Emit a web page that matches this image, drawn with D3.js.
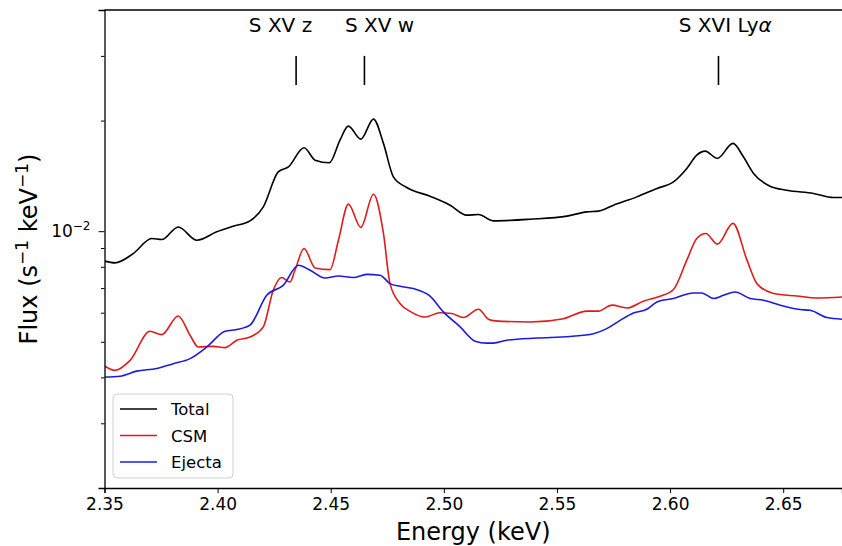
<!DOCTYPE html>
<html>
<head>
<meta charset="utf-8">
<script src="https://cdn.jsdelivr.net/npm/d3@7"></script>
<style>
  body { margin: 0; background: #fff; }
  svg, svg text { font-family: "DejaVu Sans", sans-serif; }
</style>
</head>
<body>
<div id="chart"></div>
<script>
// spectrum (energy in keV, flux in s^-1 keV^-1)
const totalEnergy = [2.3502, 2.3546, 2.3627, 2.3709, 2.3753, 2.3826, 2.3908, 2.3996, 2.4069, 2.4143,
  2.4202, 2.4268, 2.4313, 2.4382, 2.4431, 2.4494, 2.4541, 2.4578, 2.4633, 2.4689,
  2.4733, 2.4777, 2.4836, 2.4939, 2.5028, 2.5101, 2.5153, 2.5218, 2.5381, 2.5544,
  2.5632, 2.5683, 2.5750, 2.5853, 2.5942, 2.6015, 2.6074, 2.6118, 2.6155, 2.6209,
  2.6278, 2.6324, 2.6369, 2.6442, 2.6516, 2.6634, 2.6722, 2.6761];
const totalFlux = [0.00829, 0.00820, 0.00869, 0.00955, 0.00949, 0.01027, 0.00945, 0.00996, 0.01032, 0.01067,
  0.01165, 0.01450, 0.01497, 0.01687, 0.01561, 0.01535, 0.01770, 0.01932, 0.01781, 0.02019,
  0.01734, 0.01406, 0.01315, 0.01245, 0.01177, 0.01106, 0.01110, 0.01067, 0.01078, 0.01099,
  0.01129, 0.01134, 0.01177, 0.01240, 0.01307, 0.01362, 0.01482, 0.01611, 0.01652, 0.01578,
  0.01734, 0.01594, 0.01436, 0.01326, 0.01293, 0.01267, 0.01235, 0.01235];

const csmEnergy = [2.3502, 2.3546, 2.3613, 2.3701, 2.3753, 2.3826, 2.3878, 2.3915, 2.3981, 2.4033,
  2.4085, 2.4143, 2.4202, 2.4246, 2.4283, 2.4320, 2.4342, 2.4382, 2.4431, 2.4497,
  2.4534, 2.4578, 2.4633, 2.4689, 2.4733, 2.4762, 2.4807, 2.4851, 2.4917, 2.4983,
  2.5035, 2.5086, 2.5153, 2.5197, 2.5227, 2.5381, 2.5529, 2.5632, 2.5683, 2.5743,
  2.5809, 2.5882, 2.5956, 2.6015, 2.6074, 2.6118, 2.6158, 2.6209, 2.6278, 2.6340,
  2.6384, 2.6457, 2.6561, 2.6649, 2.6761];
const csmFlux = [0.00429, 0.00418, 0.00445, 0.00534, 0.00523, 0.00588, 0.00521, 0.00484, 0.00486, 0.00482,
  0.00505, 0.00515, 0.00549, 0.00691, 0.00748, 0.00727, 0.00783, 0.00897, 0.00794, 0.00786,
  0.00945, 0.01185, 0.01024, 0.01261, 0.00986, 0.00720, 0.00635, 0.00605, 0.00584, 0.00600,
  0.00597, 0.00582, 0.00613, 0.00576, 0.00570, 0.00566, 0.00578, 0.00606, 0.00606, 0.00629,
  0.00618, 0.00645, 0.00665, 0.00694, 0.00834, 0.00955, 0.00986, 0.00922, 0.01050, 0.00834,
  0.00720, 0.00677, 0.00666, 0.00658, 0.00662];

const ejectaEnergy = [2.3502, 2.3569, 2.3642, 2.3731, 2.3804, 2.3878, 2.3952, 2.4033, 2.4085, 2.4143,
  2.4217, 2.4291, 2.4357, 2.4409, 2.4475, 2.4534, 2.4600, 2.4659, 2.4718, 2.4762,
  2.4807, 2.4865, 2.4939, 2.4998, 2.5072, 2.5138, 2.5190, 2.5219, 2.5278, 2.5411,
  2.5558, 2.5661, 2.5720, 2.5779, 2.5838, 2.5897, 2.5942, 2.6015, 2.6103, 2.6140,
  2.6192, 2.6236, 2.6287, 2.6354, 2.6413, 2.6487, 2.6575, 2.6619, 2.6693, 2.6761];
const ejectaFlux = [0.00401, 0.00403, 0.00416, 0.00423, 0.00436, 0.00450, 0.00484, 0.00534, 0.00540, 0.00555,
  0.00669, 0.00713, 0.00808, 0.00783, 0.00746, 0.00755, 0.00748, 0.00763, 0.00759, 0.00720,
  0.00708, 0.00698, 0.00666, 0.00603, 0.00549, 0.00502, 0.00496, 0.00496, 0.00505, 0.00512,
  0.00517, 0.00526, 0.00543, 0.00572, 0.00599, 0.00613, 0.00642, 0.00656, 0.00679, 0.00679,
  0.00656, 0.00669, 0.00683, 0.00656, 0.00649, 0.00629, 0.00612, 0.00609, 0.00582, 0.00576];

const seriesNames = ["Total", "CSM", "Ejecta"];
const seriesColors = ["#000000", "#e01b1b", "#1b1be0"];

// line identifications
const lineNames = ["S XV z", "S XV w", "S XVI Ly"];
const lineEnergy = [2.4347, 2.4649, 2.6214];
const labelEnergy = [2.4278, 2.4716, 2.6244];

const xTicks = [2.35, 2.40, 2.45, 2.50, 2.55, 2.60, 2.65];

const width = 842, height = 546;
const margin = { top: 10, right: 0, bottom: 58, left: 104.5 };

const svg = d3.select("#chart").append("svg")
  .attr("width", width)
  .attr("height", height);

const x = d3.scaleLinear()
  .domain([2.35, 2.676])
  .range([margin.left, width - margin.right]);

const y = d3.scaleLog()
  .domain([0.002, 0.04])
  .range([height - margin.bottom, margin.top]);

const series = [
  { name: seriesNames[0], color: seriesColors[0], pts: d3.zip(totalEnergy, totalFlux) },
  { name: seriesNames[1], color: seriesColors[1], pts: d3.zip(csmEnergy, csmFlux) },
  { name: seriesNames[2], color: seriesColors[2], pts: d3.zip(ejectaEnergy, ejectaFlux) },
];

const line = d3.line()
  .x((d) => x(d[0]))
  .y((d) => y(d[1]))
  .curve(d3.curveMonotoneX);

svg.append("clipPath").attr("id", "clip")
  .append("rect")
  .attr("x", margin.left).attr("y", margin.top)
  .attr("width", width - margin.left).attr("height", height - margin.bottom - margin.top);

svg.append("g")
  .attr("clip-path", "url(#clip)")
  .selectAll("path")
  .data(series)
  .join("path")
  .attr("fill", "none")
  .attr("stroke", (d) => d.color)
  .attr("stroke-width", 1.6)
  .attr("stroke-linejoin", "round")
  .attr("d", (d) => line(d.pts));

// x axis
const xAxis = svg.append("g")
  .attr("transform", `translate(0,${height - margin.bottom})`)
  .call(d3.axisBottom(x).tickValues(xTicks).tickFormat(d3.format(".2f")).tickSize(5).tickPadding(5));
xAxis.attr("font-family", null);
xAxis.select(".domain").attr("stroke-width", 1.3);
xAxis.selectAll("text").attr("font-size", 17).attr("fill", "#000");

// y axis: log major + minor ticks
const minor = [0.003, 0.004, 0.005, 0.006, 0.007, 0.008, 0.009, 0.02, 0.03];
const yAxis = svg.append("g")
  .attr("transform", `translate(${margin.left},0)`)
  .call(d3.axisLeft(y).tickValues([0.01]).tickFormat(() => "").tickSize(6));
yAxis.select(".domain").attr("stroke-width", 1.3);
svg.append("g")
  .attr("transform", `translate(${margin.left},0)`)
  .call(d3.axisLeft(y).tickValues(minor).tickFormat(() => "").tickSize(3.5))
  .select(".domain").remove();

const yl = svg.append("text")
  .attr("x", margin.left - 14)
  .attr("y", y(0.01) + 6)
  .attr("text-anchor", "end")
  .attr("font-size", 17);
yl.append("tspan").text("10");
yl.append("tspan").attr("dy", -7).attr("font-size", 12).text("\u22122");

// top spine
svg.append("line")
  .attr("x1", margin.left).attr("x2", width)
  .attr("y1", margin.top).attr("y2", margin.top)
  .attr("stroke", "#000").attr("stroke-width", 1.3);

// axis labels
svg.append("text")
  .attr("x", (margin.left + width) / 2)
  .attr("y", 540)
  .attr("text-anchor", "middle")
  .attr("font-size", 24)
  .text("Energy (keV)");

const ylab = svg.append("text")
  .attr("transform", `translate(37,${(margin.top + height - margin.bottom) / 2}) rotate(-90)`)
  .attr("text-anchor", "middle")
  .attr("font-size", 24);
ylab.append("tspan").text("Flux (s");
ylab.append("tspan").attr("dy", -9).attr("font-size", 17).text("\u22121");
ylab.append("tspan").attr("dy", 9).text(" keV");
ylab.append("tspan").attr("dy", -9).attr("font-size", 17).text("\u22121");
ylab.append("tspan").attr("dy", 9).text(")");

// line markers
svg.append("g")
  .selectAll("line")
  .data(lineEnergy)
  .join("line")
  .attr("x1", (d) => x(d)).attr("x2", (d) => x(d))
  .attr("y1", y(0.03)).attr("y2", y(0.025))
  .attr("stroke", "#000").attr("stroke-width", 1.6);

svg.append("g")
  .selectAll("text")
  .data(lineNames)
  .join("text")
  .attr("x", (d, i) => x(labelEnergy[i]))
  .attr("y", 32)
  .attr("text-anchor", "middle")
  .attr("font-size", 20)
  .each(function (d, i) {
    const t = d3.select(this);
    t.append("tspan").text(d);
    if (i === 2) t.append("tspan").attr("font-style", "italic").text("\u03b1");
  });

// legend
const lg = svg.append("g").attr("transform", "translate(113,394)");
lg.append("rect")
  .attr("width", 120).attr("height", 84)
  .attr("rx", 4)
  .attr("fill", "#fff").attr("fill-opacity", 0.8)
  .attr("stroke", "#d0d0d0");
const row = lg.selectAll(".row")
  .data(series)
  .join("g")
  .attr("transform", (d, i) => `translate(0,${15 + i * 26.5})`);
row.append("line")
  .attr("x1", 7).attr("x2", 44)
  .attr("stroke", (d) => d.color).attr("stroke-width", 1.6);
row.append("text")
  .attr("x", 58).attr("y", 6)
  .attr("font-size", 16.5)
  .text((d) => d.name);
</script>
</body>
</html>
